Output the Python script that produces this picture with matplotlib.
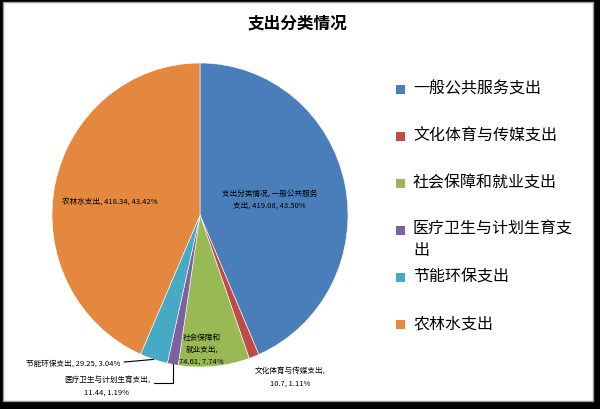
import matplotlib.pyplot as plt
from matplotlib.patches import Rectangle
import numpy as np

plt.rcParams['font.family'] = ['Noto Sans CJK SC', 'DejaVu Sans']

title = "支出分类情况"
categories = ["一般公共服务支出", "文化体育与传媒支出", "社会保障和就业支出",
              "医疗卫生与计划生育支出", "节能环保支出", "农林水支出"]
legend_names = ["一般公共服务支出", "文化体育与传媒支出", "社会保障和就业支出",
                "医疗卫生与计划生育支\n出", "节能环保支出", "农林水支出"]
values = [419.08, 10.7, 74.61, 11.44, 29.25, 418.34]
percents = ["43.50%", "1.11%", "7.74%", "1.19%", "3.04%", "43.42%"]
colors = ["#4A7EBB", "#BE4B48", "#98B954", "#7D60A0", "#46AAC5", "#E3883E"]

# label texts as shown on the chart
labels = [
    "支出分类情况, 一般公共服务\n支出, 419.08, 43.50%",
    "文化体育与传媒支出,\n10.7, 1.11%",
    "社会保障和\n就业支出,\n74.61, 7.74%",
    "医疗卫生与计划生育支出,\n11.44, 1.19%",
    "节能环保支出, 29.25, 3.04%",
    "农林水支出, 418.34, 43.42%",
]

W, H = 600, 410
fig = plt.figure(figsize=(6, 4.1), dpi=100)
fig.patch.set_facecolor("black")
fig.add_artist(Rectangle((3 / W, 8 / H), (W - 10) / W, (H - 11) / H,
                         transform=fig.transFigure, facecolor="white",
                         edgecolor="#999999", lw=1, zorder=-5))

fig.text(298 / W, 1 - 23 / H, title, ha="center", va="center",
         fontsize=12, fontweight="bold")

# pie area (slightly taller than wide, like the reference)
cx, cy, rx, ry = 200, 216, 148, 152
ax = fig.add_axes([(cx - rx) / W, (H - cy - ry) / H, 2 * rx / W, 2 * ry / H])
ax.patch.set_alpha(0)
wedges, _ = ax.pie(values, colors=colors, startangle=90, counterclock=False,
                   wedgeprops=dict(edgecolor="white", linewidth=0.4))
ax.set_aspect("auto")
ax.set_xlim(-1, 1)
ax.set_ylim(-1, 1)
ax.axis("off")

label_pos = [(0.47, 0.105), (0.61, -1.06), (0.01, -0.88),
             (-0.63, -1.12), (-0.86, -0.97), (-0.61, 0.085)]

for i, (w, txt, pos) in enumerate(zip(wedges, labels, label_pos)):
    mid = np.radians((w.theta1 + w.theta2) / 2)
    edge = (np.cos(mid), np.sin(mid))
    if i == 4:
        ax.annotate(txt, xy=edge, xytext=pos, ha="center", va="center",
                    fontsize=5.5, annotation_clip=False,
                    arrowprops=dict(arrowstyle="-", color="black", lw=0.8,
                                    relpos=(1, 0.5), shrinkA=1, shrinkB=0))
    elif i == 3:
        ax.annotate(txt, xy=edge, xytext=pos, ha="center", va="center",
                    multialignment="center",
                    fontsize=5.5, annotation_clip=False, linespacing=1.7,
                    arrowprops=dict(arrowstyle="-", color="black", lw=0.8,
                                    relpos=(1, 0.6), shrinkA=1, shrinkB=0,
                                    connectionstyle="angle,angleA=0,angleB=90,rad=0"))
    else:
        ax.text(pos[0], pos[1], txt, ha="center", va="center", fontsize=5.5,
                multialignment="center", linespacing=1.7)

# legend on the right
for i, (name, c) in enumerate(zip(legend_names, colors)):
    y = 90 + i * 47
    fig.add_artist(Rectangle((396 / W, 1 - (y + 4.5) / H), 9 / W, 9 / H,
                             transform=fig.transFigure, facecolor=c,
                             edgecolor="none"))
    if "\n" in name:
        fig.text(413 / W, 1 - (y - 10) / H, name, ha="left", va="top",
                 fontsize=11.5, linespacing=1.3)
    else:
        fig.text(413 / W, 1 - (y - 1) / H, name, ha="left", va="center",
                 fontsize=11.5)

fig.savefig("out.png", dpi=100, facecolor=fig.get_facecolor())
